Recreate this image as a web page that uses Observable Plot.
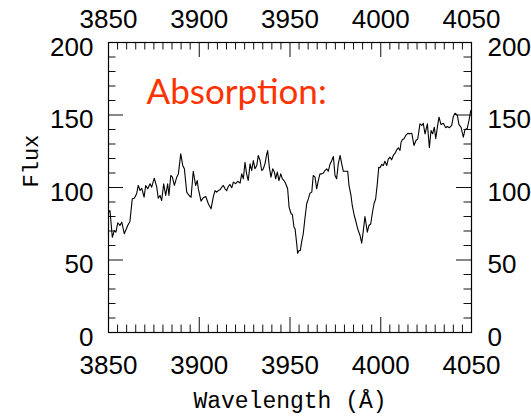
<!DOCTYPE html>
<html><head><meta charset="utf-8">
<script src="https://cdn.jsdelivr.net/npm/d3@7"></script>
<script src="https://cdn.jsdelivr.net/npm/@observablehq/plot@0.6"></script>
<style>body{margin:0;background:#fff} svg{display:block}</style>
</head><body><div id="chart"></div>
<script>
const wavelength = [3850.0,3850.8,3852.1,3853.2,3854.1,3855.1,3856.3,3857.3,3858.7,3860.6,3861.8,3863.1,3864.2,3865.5,3866.4,3867.4,3868.3,3869.6,3870.5,3871.6,3872.9,3873.8,3875.2,3876.6,3877.4,3878.4,3879.3,3880.4,3881.5,3882.6,3883.3,3884.3,3885.2,3886.3,3887.6,3888.5,3889.8,3890.9,3891.8,3893.1,3894.4,3895.5,3896.7,3898.0,3898.9,3899.5,3901.0,3902.2,3903.6,3905.0,3906.5,3907.7,3908.7,3909.6,3910.5,3911.4,3912.4,3913.3,3914.2,3915.1,3916.0,3916.9,3917.9,3918.8,3920.1,3921.2,3922.5,3923.4,3924.3,3925.2,3926.1,3927.0,3928.0,3928.9,3929.8,3930.7,3931.7,3932.5,3933.5,3934.4,3935.3,3936.2,3937.2,3937.7,3938.6,3939.5,3940.5,3941.4,3942.1,3943.0,3943.9,3944.9,3945.8,3946.7,3947.6,3948.7,3949.5,3950.6,3951.3,3952.2,3952.8,3953.7,3954.2,3955.0,3955.7,3956.4,3957.3,3958.3,3959.2,3960.1,3961.0,3962.0,3962.8,3963.8,3964.7,3965.6,3966.5,3967.5,3968.3,3969.3,3970.2,3971.1,3972.0,3973.0,3973.9,3974.8,3975.7,3976.6,3977.6,3978.5,3979.4,3980.3,3981.8,3982.5,3983.6,3984.3,3985.4,3986.4,3987.3,3988.6,3989.5,3990.4,3991.3,3992.6,3993.5,3994.5,3995.3,3996.3,3997.2,3998.1,3998.9,3999.6,4000.5,4001.4,4002.3,4003.3,4004.2,4005.1,4006.0,4006.9,4007.9,4008.8,4009.7,4010.6,4011.2,4011.9,4012.8,4013.8,4014.9,4016.1,4017.1,4018.3,4019.4,4020.4,4021.6,4022.6,4023.4,4024.4,4025.7,4026.8,4027.7,4028.6,4029.5,4030.3,4031.2,4032.1,4033.2,4034.5,4035.8,4036.7,4037.8,4039.1,4040.0,4040.9,4042.2,4043.1,4044.2,4045.5,4046.4,4047.7,4048.6,4049.6];
const flux = [82.8,84.1,65.7,70.3,69.2,75.7,73.8,76.1,68.1,73.8,76.6,92.2,92.6,95.7,101.4,97.9,99.5,93.3,101.4,99.1,102.6,100.2,106.4,100.2,92.6,94.5,91.0,102.6,94.5,102.6,94.5,108.3,107.1,101.4,107.1,109.4,123.2,115.2,112.9,96.8,94.5,93.3,111.2,101.4,104.8,99.1,90.6,92.9,93.8,88.8,85.3,93.3,97.9,96.8,97.9,98.4,100.2,101.4,99.1,97.9,100.7,102.1,99.8,103.7,102.6,104.3,103.0,109.4,106.0,117.4,109.4,104.8,116.3,111.7,118.6,112.9,115.2,122.1,118.6,111.7,112.9,116.3,123.2,125.5,114.0,107.1,112.9,110.6,106.0,110.6,104.8,109.4,106.0,104.8,102.8,99.1,86.4,81.9,81.4,72.6,71.5,61.2,54.7,56.6,56.6,62.3,68.1,79.5,88.8,92.2,96.1,96.8,108.3,107.1,99.1,104.8,109.4,109.4,109.9,111.7,112.9,111.2,115.9,118.6,121.4,108.3,106.0,116.3,122.1,116.3,111.2,111.2,111.2,101.4,94.5,87.6,80.7,76.1,71.5,66.9,61.6,70.3,80.0,69.2,73.8,75.0,81.9,88.8,92.2,102.6,114.0,113.6,115.9,115.2,118.1,115.2,119.8,120.9,119.1,122.1,123.7,126.0,127.4,125.5,131.2,132.9,133.6,135.9,137.4,137.0,137.4,129.0,132.4,133.6,143.9,142.8,144.3,137.0,143.9,127.4,139.3,137.0,141.6,133.6,141.6,148.5,143.4,144.3,141.2,142.1,141.2,142.8,149.0,151.2,149.7,143.4,141.6,134.7,139.8,140.9,146.2,153.1];
const xTickValues = [3850, 3900, 3950, 4000, 4050];
const yTickValues = [0, 50, 100, 150, 200];
const xMinorStep = 5;
const yMinorStep = 10;
const annotation = ["Absorption:"];
const annotationPos = {x: 3871, y: 165};

const W = 531, H = 420;
const mL = 108, mR = 60, mT = 42, mB = 88;
const innerW = W - mL - mR, innerH = H - mT - mB;
const minorLen = 7.5, majorLen = 15;
const xMinor = d3.range(3850, 4050 + 0.1, xMinorStep).filter(v => !xTickValues.includes(v));
const yMinor = d3.range(0, 200 + 0.1, yMinorStep).filter(v => !yTickValues.includes(v));
const spectrum = wavelength.map((w, i) => ({w, f: flux[i]}));
const sans = "'Liberation Sans', Arial, Helvetica, sans-serif";
const mono = "'Liberation Mono', 'DejaVu Sans Mono', monospace";
const tickStyle = {stroke: "#111", strokeWidth: 1};

const chart = Plot.plot({
  width: W, height: H,
  marginLeft: mL, marginRight: mR, marginTop: mT, marginBottom: mB,
  x: {domain: [3850, 4050], axis: null},
  y: {domain: [0, 200], axis: null},
  style: {background: "#fff", overflow: "visible"},
  marks: [
    // inward ticks
    Plot.ruleX(xMinor, {x: d => d, insetTop: innerH - minorLen, ...tickStyle}),
    Plot.ruleX(xMinor, {x: d => d, insetBottom: innerH - minorLen, ...tickStyle}),
    Plot.ruleX(xTickValues, {x: d => d, insetTop: innerH - majorLen, ...tickStyle}),
    Plot.ruleX(xTickValues, {x: d => d, insetBottom: innerH - majorLen, ...tickStyle}),
    Plot.ruleY(yMinor, {y: d => d, insetRight: innerW - minorLen, ...tickStyle}),
    Plot.ruleY(yMinor, {y: d => d, insetLeft: innerW - minorLen, ...tickStyle}),
    Plot.ruleY(yTickValues, {y: d => d, insetRight: innerW - majorLen, ...tickStyle}),
    Plot.ruleY(yTickValues, {y: d => d, insetLeft: innerW - majorLen, ...tickStyle}),
    Plot.frame({stroke: "#000", strokeWidth: 1.2}),
    // spectrum
    Plot.line(spectrum, {x: "w", y: "f", stroke: "#000", strokeWidth: 1.1}),
    // tick labels
    Plot.text(xTickValues, {x: d => d, text: d => String(d), frameAnchor: "top", dy: -23, lineAnchor: "middle", fontSize: 26, fontFamily: sans, fill: "#000"}),
    Plot.text(xTickValues, {x: d => d, text: d => String(d), frameAnchor: "bottom", dy: 33, lineAnchor: "middle", fontSize: 26, fontFamily: sans, fill: "#000"}),
    Plot.text(yTickValues, {y: d => d, text: d => String(d), frameAnchor: "left", dx: -15, dy: 5, textAnchor: "end", lineAnchor: "middle", fontSize: 26, fontFamily: sans, fill: "#000"}),
    Plot.text(yTickValues, {y: d => d, text: d => String(d), frameAnchor: "right", dx: 16, dy: 5, textAnchor: "start", lineAnchor: "middle", fontSize: 26, fontFamily: sans, fill: "#000"}),
    // axis titles
    Plot.text(["Flux"], {text: d => d, frameAnchor: "left", dx: -78, rotate: -90, lineAnchor: "middle", fontSize: 22, fontFamily: mono, fill: "#000"}),
    Plot.text(["Wavelength (Å)"], {text: d => d, frameAnchor: "bottom", dy: 68, lineAnchor: "middle", fontSize: 23, fontFamily: mono, fill: "#000"}),
    // annotation
    Plot.text(annotation, {x: () => annotationPos.x, y: () => annotationPos.y, text: d => d, textAnchor: "start", lineAnchor: "middle", fontSize: 35, fontFamily: "Lato, 'Open Sans', sans-serif", fill: "#ff3300"})
  ]
});
document.getElementById("chart").appendChild(chart);
</script>
</body></html>
